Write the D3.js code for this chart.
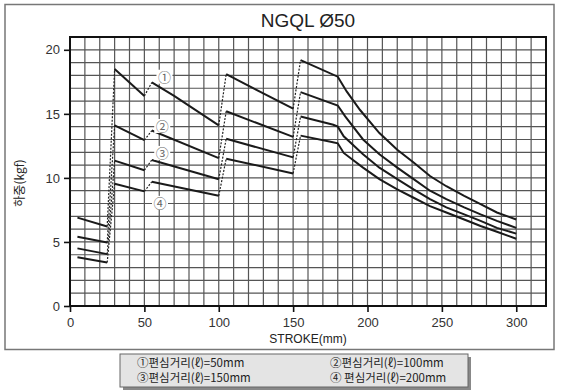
<!DOCTYPE html>
<html><head><meta charset="utf-8">
<script src="https://cdn.jsdelivr.net/npm/d3@7"></script>
<style>body{margin:0;background:#fff}svg{display:block}</style>
</head><body><svg id="c" width="564" height="390"></svg>
<script>
// ---- data ----
const title = "NGQL Ø50";
const xTicks = [0, 50, 100, 150, 200, 250, 300];
const yTicks = [0, 5, 10, 15, 20];
const seriesNames = ["①", "②", "③", "④"];
const legendTexts = ["①편심거리(ℓ)=50mm", "②편심거리(ℓ)=100mm", "③편심거리(ℓ)=150mm", "④ 편심거리(ℓ)=200mm"];
// each series: list of solid segments, points are [stroke(mm), load(kgf)]
const s1 = [
  [[5, 6.9], [25, 6.2]],
  [[30, 18.5], [50, 16.4]],
  [[55, 17.45], [70, 16.4], [100, 14.1]],
  [[105, 18.1], [150, 15.4]],
  [[155, 19.2], [180, 17.9], [186, 16.75], [195, 15.3], [208, 13.5], [220, 12.2], [231, 11.2], [242, 10.15], [253, 9.35], [265, 8.6], [276, 7.95], [287, 7.3], [300, 6.75]]
];
const s2 = [
  [[5, 5.4], [25, 4.95]],
  [[30, 14.1], [50, 12.95]],
  [[55, 13.7], [100, 11.55]],
  [[105, 15.2], [150, 13.2]],
  [[155, 16.7], [180, 15.65], [185, 14.8], [197, 13.0], [208, 11.85], [220, 10.8], [231, 9.9], [242, 9.0], [253, 8.35], [265, 7.7], [276, 7.15], [287, 6.65], [300, 6.1]]
];
const s3 = [
  [[5, 4.5], [25, 4.05]],
  [[30, 11.35], [50, 10.6]],
  [[55, 11.4], [100, 9.9]],
  [[105, 13.05], [150, 11.6]],
  [[155, 14.8], [177, 14.15], [180, 14.0], [184, 13.25], [197, 11.85], [208, 10.8], [220, 9.9], [231, 9.1], [242, 8.35], [253, 7.7], [265, 7.15], [276, 6.65], [287, 6.1], [300, 5.65]]
];
const s4 = [
  [[5, 3.8], [25, 3.4]],
  [[30, 9.55], [50, 8.95]],
  [[55, 9.7], [100, 8.6]],
  [[105, 11.5], [150, 10.35]],
  [[155, 13.3], [176, 12.8], [180, 12.7], [184, 11.95], [197, 10.8], [208, 9.9], [220, 9.1], [231, 8.45], [242, 7.8], [253, 7.3], [265, 6.75], [276, 6.25], [287, 5.8], [300, 5.25]]
];
const allSeries = [s1, s2, s3, s4];
// where the circled series numbers sit, [stroke, load]
const labelAt = [[63.5, 17.9], [62, 14.05], [62, 11.95], [60.5, 8.05]];

// ---- drawing ----
const svg = d3.select("#c");
const W = 564, H = 390;
const m = {l: 70, r: 546, t: 37, b: 306};
const x = d3.scaleLinear().domain([0, 320]).range([m.l, m.r]);
const y = d3.scaleLinear().domain([0, 21]).range([m.b, m.t]);
const font = "'Liberation Sans', Arial, sans-serif";
const kfont = "'Noto Sans CJK KR', sans-serif";

svg.append("rect").attr("width", W).attr("height", H).attr("fill", "#fff");
// outer frame
svg.append("rect").attr("x", 5).attr("y", 4.5).attr("width", 549).attr("height", 345)
  .attr("fill", "none").attr("stroke", "#777").attr("stroke-width", 1.5);

svg.append("text").attr("x", (m.l + m.r) / 2).attr("y", 27).attr("text-anchor", "middle")
  .attr("font-family", font).attr("font-size", 19).attr("fill", "#222").text(title);

// grid
const g = svg.append("g");
g.selectAll("line.v").data(d3.range(10, 320, 10)).join("line")
  .attr("x1", d => x(d)).attr("x2", d => x(d)).attr("y1", m.t).attr("y2", m.b)
  .attr("stroke", "#555").attr("stroke-width", 1.2);
g.selectAll("line.h").data(d3.range(1, 21, 1)).join("line")
  .attr("y1", d => y(d)).attr("y2", d => y(d)).attr("x1", m.l).attr("x2", m.r)
  .attr("stroke", "#555").attr("stroke-width", 1.2);

// axes
const xAxis = d3.axisBottom(x).tickValues(xTicks).tickSize(6).tickFormat(d3.format("d"));
const yAxis = d3.axisLeft(y).tickValues(yTicks).tickSize(6).tickFormat(d3.format("d"));
const ax = svg.append("g").attr("transform", `translate(0,${m.b})`).call(xAxis);
const ay = svg.append("g").attr("transform", `translate(${m.l},0)`).call(yAxis);
[ax, ay].forEach(a => {
  a.select(".domain").remove();
  a.selectAll(".tick line").attr("stroke", "#111").attr("stroke-width", 1.6);
  a.selectAll(".tick text").attr("font-family", font).attr("font-size", 13).attr("fill", "#333");
});
ax.selectAll(".tick text").attr("dy", "0.9em");
ay.selectAll(".tick text").attr("dx", "-1px");

// plot border
svg.append("rect").attr("x", m.l).attr("y", m.t).attr("width", m.r - m.l).attr("height", m.b - m.t)
  .attr("fill", "none").attr("stroke", "#111").attr("stroke-width", 2);

// series
const line = d3.line().x(d => x(d[0])).y(d => y(d[1]));
allSeries.forEach(segs => {
  for (let i = 0; i + 1 < segs.length; i++) {
    const a = segs[i][segs[i].length - 1], b = segs[i + 1][0];
    svg.append("path").attr("d", line([a, b])).attr("fill", "none")
      .attr("stroke", "#222").attr("stroke-width", 1.2).attr("stroke-dasharray", "2,1.5");
  }
  segs.forEach(s => {
    svg.append("path").attr("d", line(s)).attr("fill", "none")
      .attr("stroke", "#1a1a1a").attr("stroke-width", 2);
  });
});

// circled labels
labelAt.forEach((p, i) => {
  svg.append("rect").attr("x", x(p[0]) - 8).attr("y", y(p[1]) - 7).attr("width", 16).attr("height", 14).attr("fill", "#fff");
  svg.append("text").attr("x", x(p[0])).attr("y", y(p[1]) + 5).attr("text-anchor", "middle")
    .attr("font-family", kfont).attr("font-size", 13).attr("fill", "#666")
    .text(seriesNames[i]);
});

// axis titles
svg.append("text").attr("x", (m.l + m.r) / 2).attr("y", 343).attr("text-anchor", "middle")
  .attr("font-family", font).attr("font-size", 12).attr("fill", "#222").text("STROKE(mm)");
svg.append("text").attr("transform", "translate(24,183) rotate(-90)").attr("text-anchor", "middle")
  .attr("font-family", kfont).attr("font-size", 12).attr("fill", "#222").text("하중(kgf)");

// legend
const lg = {x: 120, y: 354, w: 348, h: 33};
svg.append("rect").attr("x", lg.x + 3).attr("y", lg.y + 3).attr("width", lg.w).attr("height", lg.h).attr("fill", "#888");
svg.append("rect").attr("x", lg.x).attr("y", lg.y).attr("width", lg.w).attr("height", lg.h)
  .attr("fill", "#e4e4e4").attr("stroke", "#666").attr("stroke-width", 1);
const lgPos = [[137, 367], [330, 367], [137, 382], [330, 382]];
legendTexts.forEach((t, i) => {
  svg.append("text").attr("x", lgPos[i][0]).attr("y", lgPos[i][1])
    .attr("font-family", kfont).attr("font-size", 11.5).attr("fill", "#222").text(t);
});
</script></body></html>
